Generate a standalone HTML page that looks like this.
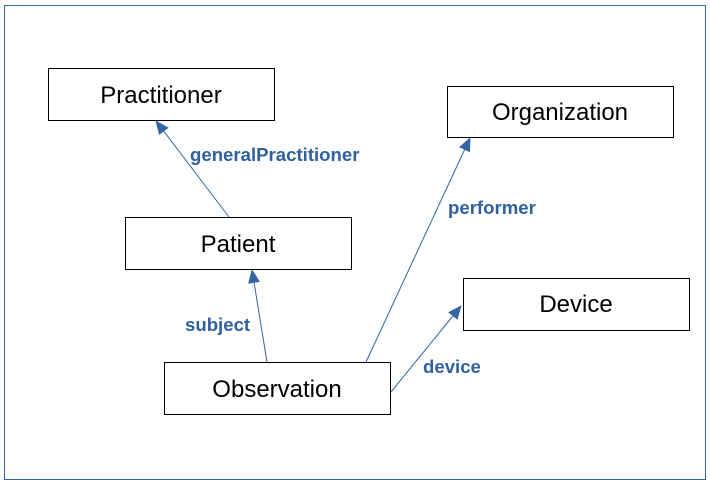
<!DOCTYPE html>
<html><head><style>
body{margin:0;background:#fff;width:710px;height:485px;overflow:hidden}
svg{display:block}
.b{fill:#fff;stroke:#000;stroke-width:1}
.t{font-family:"Liberation Sans",sans-serif;font-size:24px;fill:#000;text-anchor:middle}
.l{font-family:"Liberation Sans",sans-serif;font-size:18.6px;font-weight:bold;fill:#2f619f}
.a{stroke:#3465a4;stroke-width:1;fill:none}
</style></head><body>
<svg width="710" height="485" xmlns="http://www.w3.org/2000/svg">
<defs><marker id="m" markerWidth="14" markerHeight="12" refX="13" refY="6" orient="auto" markerUnits="userSpaceOnUse"><path d="M0,0 L14,6 L0,12 Z" fill="#3465a4"/></marker></defs>
<rect x="4.5" y="5.5" width="701" height="474" fill="#fff" stroke="#3465a4"/>
<rect class="b" x="48.5" y="68.5" width="226" height="52"/><text class="t" x="161" y="103">Practitioner</text>
<rect class="b" x="447.5" y="86.5" width="226" height="51"/><text class="t" x="560" y="120">Organization</text>
<rect class="b" x="125.5" y="217.5" width="226" height="52"/><text class="t" x="238" y="252">Patient</text>
<rect class="b" x="463.5" y="278.5" width="226" height="52"/><text class="t" x="576" y="312">Device</text>
<rect class="b" x="164.5" y="362.5" width="226" height="52"/><text class="t" x="277" y="397">Observation</text>
<line class="a" x1="229" y1="217" x2="156" y2="121" marker-end="url(#m)"/>
<line class="a" x1="267" y1="362" x2="252" y2="270" marker-end="url(#m)"/>
<line class="a" x1="366" y1="362" x2="470" y2="138" marker-end="url(#m)"/>
<line class="a" x1="391" y1="392" x2="461" y2="306" marker-end="url(#m)"/>
<text class="l" x="190" y="161">generalPractitioner</text>
<text class="l" x="448" y="214">performer</text>
<text class="l" x="185" y="331">subject</text>
<text class="l" x="423" y="373">device</text>
</svg>
</body></html>
